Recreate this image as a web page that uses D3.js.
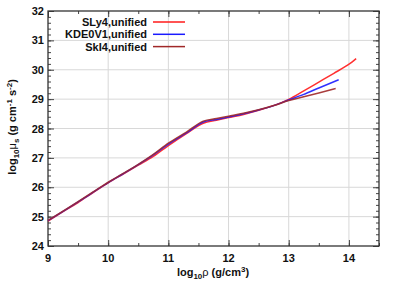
<!DOCTYPE html>
<html>
<head>
<meta charset="utf-8">
<script src="https://cdn.jsdelivr.net/npm/d3@7"></script>
<style>
body { margin: 0; background: #fff; }
text { font-family: "Liberation Sans", Arial, sans-serif; font-weight: bold; fill: #111; }
</style>
</head>
<body>
<script>
var w = 399, h = 285;

// curves
var rhoCommon = [9.0, 9.25, 9.5, 9.75, 10.0, 10.25, 10.5, 10.75, 11.0, 11.3, 11.58, 11.8, 12.0, 12.25, 12.5, 12.75, 13.0];
var sly4Low   = [24.85, 25.17, 25.48, 25.82, 26.15, 26.45, 26.75, 27.05, 27.42, 27.83, 28.18, 28.28, 28.37, 28.48, 28.62, 28.78, 28.99];
var kdeLow    = [24.86, 25.18, 25.50, 25.83, 26.16, 26.46, 26.77, 27.10, 27.47, 27.85, 28.22, 28.31, 28.39, 28.50, 28.63, 28.78, 28.97];
var ski4Low   = [24.87, 25.19, 25.51, 25.84, 26.17, 26.47, 26.78, 27.12, 27.50, 27.88, 28.25, 28.34, 28.42, 28.52, 28.64, 28.78, 28.95];

var sly4RhoHi = [13.25, 13.5, 13.75, 13.95, 14.05, 14.12];
var sly4Hi    = [29.28, 29.58, 29.88, 30.12, 30.26, 30.38];
var kdeRhoHi  = [13.25, 13.5, 13.83];
var kdeHi     = [29.16, 29.38, 29.66];
var ski4RhoHi = [13.25, 13.5, 13.78];
var ski4Hi    = [29.08, 29.21, 29.36];

var names  = ["SLy4,unified", "KDE0V1,unified", "SkI4,unified"];
var colors = ["#ff1a1a", "#1a1aff", "#a02828"];

var xTicks = [9, 10, 11, 12, 13, 14];
var yTicks = [24, 25, 26, 27, 28, 29, 30, 31, 32];

function join(lo, rHi, vHi) {
  var pts = rhoCommon.map(function(r, i) { return [r, lo[i]]; });
  rHi.forEach(function(r, i) { pts.push([r, vHi[i]]); });
  return pts;
}
var series = [
  join(sly4Low, sly4RhoHi, sly4Hi),
  join(kdeLow, kdeRhoHi, kdeHi),
  join(ski4Low, ski4RhoHi, ski4Hi)
];

var pL = 48, pR = 379, pT = 11, pB = 246;

var x = d3.scaleLinear().domain([9, 14.5]).range([pL, pR]);
var y = d3.scaleLinear().domain([24, 32]).range([pB, pT]);

var svg = d3.select("body").append("svg")
    .attr("width", w)
    .attr("height", h);

// grid
svg.append("g").selectAll("line")
    .data(xTicks.filter(function(d) { return d > 9; }))
    .enter().append("line")
    .attr("x1", function(d) { return x(d); }).attr("x2", function(d) { return x(d); })
    .attr("y1", pT).attr("y2", pB)
    .attr("stroke", "#d8d8d8").attr("stroke-width", 1);
svg.append("g").selectAll("line")
    .data(yTicks.filter(function(d) { return d > 24 && d < 32; }))
    .enter().append("line")
    .attr("x1", pL).attr("x2", pR)
    .attr("y1", function(d) { return y(d); }).attr("y2", function(d) { return y(d); })
    .attr("stroke", "#d8d8d8").attr("stroke-width", 1);

// axes, ticks pointing inward, mirrored
var xMinor = d3.range(9, 14.51, 0.5);
var yMinor = d3.range(24, 32.01, 0.2);

svg.append("g").attr("transform", "translate(0," + pB + ")")
    .call(d3.axisTop(x).tickValues(xMinor).tickSize(3).tickFormat(""));
svg.append("g").attr("transform", "translate(0," + pT + ")")
    .call(d3.axisBottom(x).tickValues(xMinor).tickSize(3).tickFormat(""));
svg.append("g").attr("transform", "translate(0," + pB + ")")
    .call(d3.axisTop(x).tickValues(xTicks).tickSize(6).tickFormat(""));
svg.append("g").attr("transform", "translate(0," + pT + ")")
    .call(d3.axisBottom(x).tickValues(xTicks).tickSize(6).tickFormat(""));
svg.append("g").attr("transform", "translate(" + pL + ",0)")
    .call(d3.axisRight(y).tickValues(yMinor).tickSize(3).tickFormat(""));
svg.append("g").attr("transform", "translate(" + pR + ",0)")
    .call(d3.axisLeft(y).tickValues(yMinor).tickSize(3).tickFormat(""));
svg.append("g").attr("transform", "translate(" + pL + ",0)")
    .call(d3.axisRight(y).tickValues(yTicks).tickSize(6).tickFormat(""));
svg.append("g").attr("transform", "translate(" + pR + ",0)")
    .call(d3.axisLeft(y).tickValues(yTicks).tickSize(6).tickFormat(""));
svg.selectAll(".domain").remove();
svg.selectAll(".tick line").attr("stroke", "#444");

svg.append("rect")
    .attr("x", pL).attr("y", pT)
    .attr("width", pR - pL).attr("height", pB - pT)
    .attr("fill", "none").attr("stroke", "#333").attr("stroke-width", 1.3);

// tick labels
svg.append("g").selectAll("text")
    .data(xTicks).enter().append("text")
    .attr("x", function(d) { return x(d); })
    .attr("y", pB + 16)
    .attr("text-anchor", "middle")
    .style("font-size", "11px")
    .text(function(d) { return d; });
svg.append("g").selectAll("text")
    .data(yTicks).enter().append("text")
    .attr("x", pL - 4)
    .attr("y", function(d) { return y(d) + 4; })
    .attr("text-anchor", "end")
    .style("font-size", "11px")
    .text(function(d) { return d; });

// axis titles
var xl = svg.append("text")
    .attr("x", 213).attr("y", 276)
    .attr("text-anchor", "middle")
    .style("font-size", "11px");
xl.append("tspan").text("log");
xl.append("tspan").attr("dy", 3).style("font-size", "8px").text("10");
xl.append("tspan").attr("dy", -3).style("font-weight", "normal").text("ρ");
xl.append("tspan").text(" (g/cm");
xl.append("tspan").attr("dy", -4).style("font-size", "8px").text("3");
xl.append("tspan").attr("dy", 4).text(")");

var yl = svg.append("text")
    .attr("transform", "translate(16,127) rotate(-90)")
    .attr("text-anchor", "middle")
    .style("font-size", "11px");
yl.append("tspan").text("log");
yl.append("tspan").attr("dy", 3).style("font-size", "8px").text("10");
yl.append("tspan").attr("dy", -3).style("font-weight", "normal").text("μ");
yl.append("tspan").attr("dy", 3).style("font-size", "8px").text("s");
yl.append("tspan").attr("dy", -3).text(" (g cm");
yl.append("tspan").attr("dy", -4).style("font-size", "8px").text("-1");
yl.append("tspan").attr("dy", 4).text(" s");
yl.append("tspan").attr("dy", -4).style("font-size", "8px").text("-2");
yl.append("tspan").attr("dy", 4).text(")");

// curves
var line = d3.line()
    .x(function(d) { return x(d[0]); })
    .y(function(d) { return y(d[1]); })
    .curve(d3.curveMonotoneX);

svg.append("g").selectAll("path")
    .data(series).enter().append("path")
    .attr("d", line)
    .attr("fill", "none")
    .attr("stroke", function(d, i) { return colors[i]; })
    .attr("stroke-width", 1.5)
    .attr("stroke-opacity", 0.9);

// legend
var leg = svg.append("g").selectAll("g")
    .data(names).enter().append("g")
    .attr("transform", function(d, i) { return "translate(0," + (22 + 12.3 * i) + ")"; });
leg.append("text")
    .attr("x", 147).attr("y", 4)
    .attr("text-anchor", "end")
    .style("font-size", "11px")
    .text(function(d) { return d; });
leg.append("line")
    .attr("x1", 153).attr("x2", 185)
    .attr("stroke", function(d, i) { return colors[i]; })
    .attr("stroke-width", 1.5);
</script>
</body>
</html>
